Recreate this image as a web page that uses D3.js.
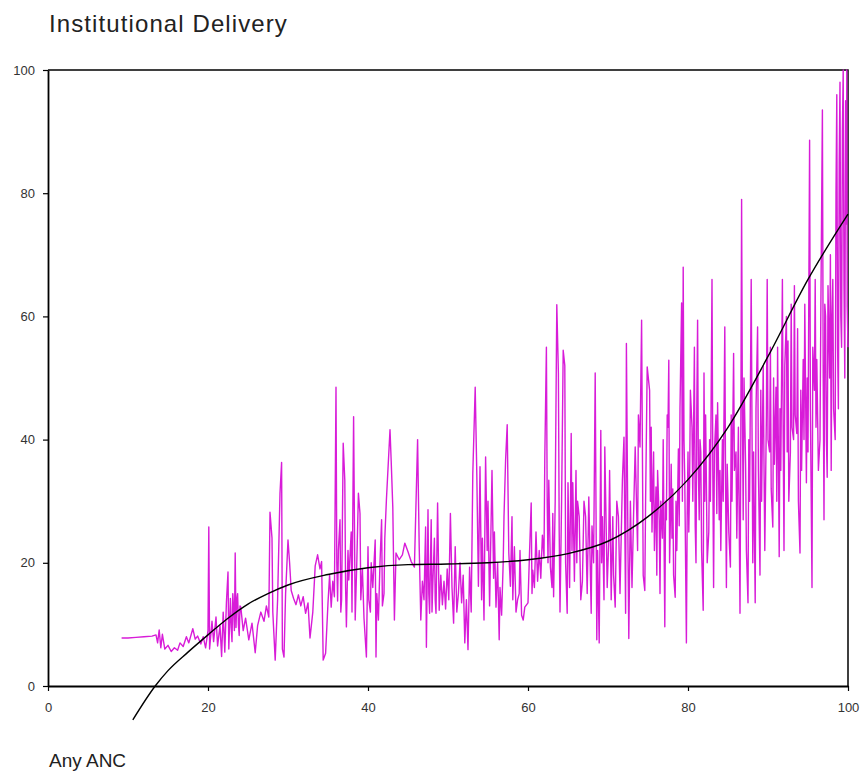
<!DOCTYPE html>
<html>
<head>
<meta charset="utf-8">
<script src="https://cdn.jsdelivr.net/npm/d3@7"></script>
<style>
  body { margin: 0; background: #fff; }
  text { font-family: "Liberation Sans", Arial, sans-serif; }
</style>
</head>
<body>
<div id="chart"></div>
<script>
// Any ANC (x) and Institutional Delivery (y)
const anc = [9.2,10,11,12,13,13.5,13.7,13.9,14.1,14.3,14.6,15,15.4,15.8,16.2,16.5,16.9,17.3,17.6,18.1,18.4,18.7,19.1,19.4,19.7,20.0,20.1,20.2,20.5,20.7,21,21.2,21.5,21.7,21.9,22.1,22.3,22.5,22.6,22.8,
  22.9,23.0,23.1,23.2,23.3,23.4,23.5,23.6,23.7,23.8,23.9,24.0,24.1,
  24.4,24.7,25.1,25.5,25.9,26.2,26.6,27,27.3,27.6,27.75,28.0,28.1,28.4,28.7,29.0,29.2,29.3,29.5,29.7,30.0,30.2,30.4,30.7,31.0,31.3,31.6,31.9,32.2,32.5,32.75,33.1,33.4,33.7,34.0,34.2,34.4,34.7,
  35.0,35.2,35.4,35.6,35.8,36.0,36.1,36.2,36.3,36.5,36.6,36.7,36.9,37.1,37.2,37.3,37.5,37.6,37.9,38.0,38.2,38.4,38.6,38.8,39.0,39.1,39.3,39.5,39.8,40.0,40.1,40.3,40.4,40.6,40.9,41.0,41.1,41.3,41.5,41.7,41.8,42.0,42.1,42.3,42.75,42.9,43.1,43.3,43.5,43.9,44.3,44.6,45.0,45.4,45.8,46.2,46.4,46.6,46.8,47.0,47.2,47.3,47.5,47.6,47.7,47.9,48.0,48.1,48.3,48.4,48.5,48.7,48.9,49.1,49.3,49.5,49.7,49.9,50.1,50.3,50.5,50.7,50.9,51.1,51.3,51.5,51.7,51.9,52.1,52.3,52.5,52.7,52.9,53.1,53.4,53.6,53.8,54.0,54.2,54.3,54.5,54.7,54.9,55.0,55.2,55.5,55.7,55.8,56.0,56.2,56.4,56.5,56.7,56.9,57.0,57.2,57.4,57.6,57.8,58.0,58.1,58.3,58.5,58.7,58.9,59.0,59.2,59.4,59.6,
  60.0,60.2,60.4,60.5,60.6,60.8,61.0,61.2,61.4,61.6,61.8,62.0,62.1,62.3,62.4,62.5,62.6,62.8,63.0,63.1,63.2,63.4,63.6,63.8,63.9,64.0,64.2,64.4,64.6,64.7,64.9,65.0,65.2,65.4,65.5,65.6,65.8,66.0,66.1,66.2,66.4,66.6,66.8,67.0,67.2,67.4,67.6,67.9,68.0,68.2,68.4,68.6,68.7,68.9,69.1,69.2,69.3,69.5,69.6,69.9,70.1,70.2,70.4,70.6,70.7,70.9,71.1,71.3,71.5,71.8,72.0,72.2,72.3,72.5,72.6,72.8,73.0,73.2,73.4,73.7,73.8,74.0,74.2,74.4,74.6,74.7,74.9,
  75.2,75.3,75.4,75.5,75.7,75.8,76.0,76.1,76.2,76.4,76.5,76.6,76.8,76.9,77.1,77.2,77.3,77.4,77.5,77.6,77.7,77.8,77.9,78.0,78.1,78.2,78.4,78.5,78.6,78.8,78.9,79.0,79.2,79.3,79.4,79.5,79.6,79.7,79.8,79.9,80.0,80.1,80.2,80.3,80.5,80.6,80.8,80.9,81.0,81.1,81.2,81.3,81.4,81.5,81.6,81.7,81.9,82.0,82.1,82.2,82.3,82.4,82.6,82.7,82.8,83.0,83.1,83.2,83.3,83.5,83.6,83.7,83.9,84.0,84.1,84.3,84.4,84.6,84.7,84.8,84.9,85.1,85.3,85.4,85.5,85.7,85.8,86.0,86.1,86.3,86.5,86.6,86.7,86.8,86.9,87.0,87.2,87.3,87.5,87.6,87.7,87.9,88.0,88.1,88.2,88.4,88.5,88.7,88.8,89.0,89.1,89.2,89.4,89.5,89.6,89.8,89.9,90.0,90.2,90.3,90.4,90.6,90.7,90.8,91.0,91.1,91.2,91.4,91.5,91.6,91.8,91.9,92.0,92.1,92.3,92.4,92.5,92.6,92.8,92.9,93.0,93.2,93.3,93.4,93.6,93.7,93.8,94.0,94.1,94.2,94.4,94.5,94.6,94.8,94.9,95.0,95.2,95.3,95.5,95.6,95.8,95.9,96.0,96.1,96.3,96.5,96.6,96.8,96.9,97.0,97.1,97.2,97.3,97.4,97.5,97.7,97.8,97.9,98.0,98.1,98.2,98.4,98.5,98.6,98.7,98.8,98.9,99.0,99.1,99.2,99.3,99.4,99.5,99.6,99.7,99.8,99.85,99.9,100];
const delivery = [7.8,7.8,7.9,8.0,8.1,8.3,7.0,9.1,6.2,8.4,6.0,6.6,5.6,6.2,5.8,7.0,6.4,8.0,7.0,9.3,7.6,8.1,6.8,8.0,6.2,9.0,25.8,6.0,10.5,7.2,11.2,6.5,9.8,4.8,12,5.5,13.5,18.5,6.0,14.2,
  9.5,7.2,15,12.5,9,21.6,9.5,14,15,10,8.2,13,12.8,
  9.0,11,7.5,10.2,5.4,9.8,12.0,10.5,13,11.2,28.2,24,12,4.2,14,31.3,36.3,6.0,4.7,15,23.7,20,15.5,14.2,13.2,14.8,13,14.5,11.8,13.5,7.8,12,19.5,21.3,19,20.2,4.2,5.3,
  13.5,18,12.8,17,14.5,48.5,20,13.8,22,27,12,14,39.4,33.4,16,9.6,22,17.2,25,12,43.7,10.7,20,31.3,28,14,19,11,4.7,22.6,14,12,20,16,23.7,4.7,15,10.7,20,27,13,15,24,30.2,41.6,36.5,29,10.7,21.6,20.5,21.3,23.2,21.8,20.2,19.3,40,22.6,10.7,17,14,25.8,6.3,28.6,15,11.8,27,12,16.5,24,14,11.8,29.7,12.3,18,13.2,17,12.5,19,14,28,16,10.2,22.6,12,15,20,13.5,18,7,14,5.9,19.3,12,34.5,48.5,34.5,16.2,35.6,14,24,10.7,37.2,22,30,13,35,17.5,25,12.8,20,7.5,16,11.5,20,27.5,36.7,42.4,21.6,16.2,27.5,14,22.6,12,14,15,22,11.5,10.7,12.8,
  13.5,22,29.7,15,18.8,16,25,17,22,17.5,24.5,21,37,55,30,20,33.4,19.3,16,28,14.5,30,61.9,50.8,25,12,30,54.5,52,20,11.8,33,16,41,22,33,17,35,20,30,27.5,14,17,30,27.5,15,30.7,11.8,26,20,50.8,7.5,22,7.0,41.5,20,27.5,14,38.8,16,24,35,14,27.5,18,12.8,30,27.5,15,33.4,40.4,11.8,55.6,22,7.7,30,16,28,38.8,22,44,38.8,59.4,18,15.5,30,51.8,
  48,30,42,25,38,22,32.3,18,35,27,15,30,24,40,9.6,30,27,44,42,52.9,20,27,36,24,32,18,14.4,30,22,38.5,26,45,62.2,30,68,40,33,20,7.0,28,38,25,33,48,42,30,55,26,20,45,59.4,35,27,40,38,22,12.3,50.8,30,44,33,20,25,40,30,66,35,16,38,44,28,46,27,35,22,40,30,58.3,32,16,36,25,19.3,44,30,54,35,38,24,42,11.8,40,79,45,27,50,36,22,13.5,40,30,66,42,20,38,13.5,45,58.3,35,18,48,30,52,36,22,44,66,40,38,55,32,25.8,50,36,48.5,30,55,21,45,35,66,40,22,52,60,38,56,30,38,62,42,40,65,44,41,58,30,21.6,48,35,53,40,62,33,50,38,88.6,45,16,55,48,66,42,53,35,40,60,93.5,50,27,62,60,40,33.9,65,50,70,35,60,66,45,40,80,96,55,45,85,98,60,55,90,100,65,50,95,75,100,61.6,55];

// polynomial trend line, read at regular steps
const trendX = [10.6,13.4,15,17.5,20,22.5,25,27.5,30,35,40,45,50,55,60,65,70,75,80,85,90,95,100];
const trendY = [-5.5,0,2.5,5.5,8.3,11,13.3,15,16.4,18.1,19.2,19.7,19.8,20,20.5,21.5,23.5,27.5,33.5,42,53.5,66,76.6];

const xTicks = [0,20,40,60,80,100];
const yTicks = [0,20,40,60,80,100];

const width = 865;
const height = 776;
const margin = { top: 70, right: 17, bottom: 90, left: 48 };
const w = width - margin.left - margin.right;
const h = height - margin.top - margin.bottom;

const svg = d3.select("#chart")
    .append("svg")
    .attr("width", width)
    .attr("height", height);

// title and x label
svg.append("text")
    .attr("x", 49)
    .attr("y", 32)
    .attr("font-size", 24)
    .attr("letter-spacing", 1.1)
    .attr("fill", "#222")
    .text("Institutional Delivery");

svg.append("text")
    .attr("x", 49)
    .attr("y", 767)
    .attr("font-size", 19)
    .attr("fill", "#222")
    .text("Any ANC");

const g = svg.append("g")
    .attr("transform", `translate(${margin.left},${margin.top})`);

const x = d3.scaleLinear().domain([0, 100]).range([0, w]);
const y = d3.scaleLinear().domain([0, 100]).range([h, 0]);

// frame (top and right sides)
g.append("path")
    .attr("d", `M0,0H${w}V${h}`)
    .attr("fill", "none")
    .attr("stroke", "#000")
    .attr("stroke-width", 1.5);

// axes
const xAxis = g.append("g")
    .attr("transform", `translate(0,${h})`)
    .call(d3.axisBottom(x).tickValues(xTicks).tickSize(5).tickPadding(12).tickSizeOuter(0));

const yAxis = g.append("g")
    .call(d3.axisLeft(y).tickValues(yTicks).tickSize(5).tickPadding(8).tickSizeOuter(0));

[xAxis, yAxis].forEach(a => {
    a.select(".domain").attr("stroke", "#000").attr("stroke-width", 1.8);
    a.selectAll(".tick line").attr("stroke", "#000").attr("stroke-width", 1.2);
    a.selectAll("text")
        .attr("font-family", "Liberation Sans, Arial, sans-serif")
        .attr("font-size", 13)
        .attr("fill", "#333");
});

// data line
const pts = anc.map((v, i) => [v, delivery[i]]);
g.append("path")
    .datum(pts)
    .attr("fill", "none")
    .attr("stroke", "#d81cd8")
    .attr("stroke-width", 1.4)
    .attr("stroke-linejoin", "round")
    .attr("d", d3.line().x(d => x(d[0])).y(d => y(d[1])));

// trend line
const trend = trendX.map((v, i) => [v, trendY[i]]);
g.append("path")
    .datum(trend)
    .attr("fill", "none")
    .attr("stroke", "#000")
    .attr("stroke-width", 1.4)
    .attr("d", d3.line().curve(d3.curveMonotoneX).x(d => x(d[0])).y(d => y(d[1])));
</script>
</body>
</html>
